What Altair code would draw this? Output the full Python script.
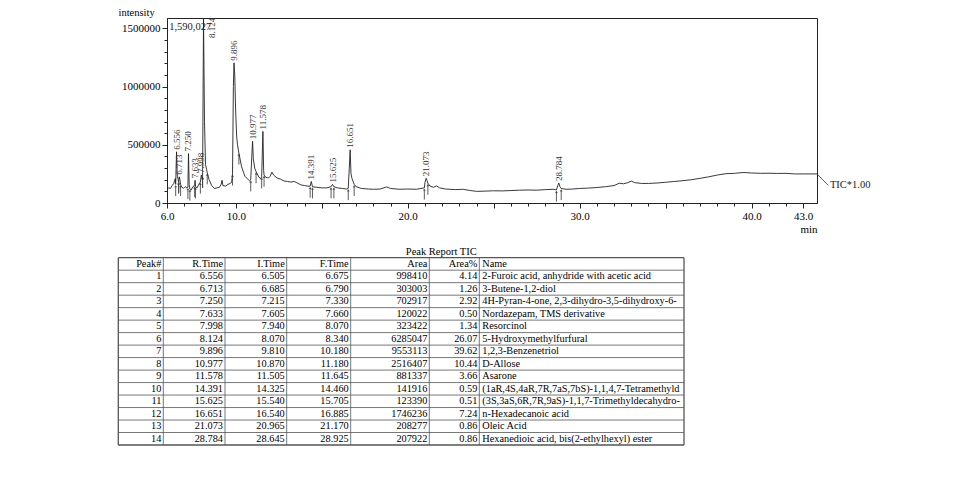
import altair as alt
import pandas as pd
import numpy as np

# ---------------- chromatogram trace (retention time [min], intensity) ----------------
TRACE_T = [6.00, 6.10, 6.20, 6.30, 6.40, 6.48, 6.505, 6.556, 6.60, 6.65, 6.675, 6.685, 6.713, 6.75, 6.79,
           6.85, 6.95, 7.05, 7.15, 7.215, 7.250, 7.29, 7.33, 7.40, 7.50, 7.605, 7.633, 7.66, 7.75, 7.85,
           7.94, 7.998, 8.05, 8.07, 8.124, 8.18, 8.24, 8.30, 8.34, 8.45, 8.60, 8.75, 8.90, 9.05, 9.15,
           9.20, 9.25, 9.40, 9.55, 9.70, 9.76, 9.81, 9.86, 9.896, 9.94, 9.99, 10.05, 10.10, 10.18, 10.34,
           10.53, 10.73, 10.80, 10.87, 10.93, 10.977, 11.02, 11.10, 11.18, 11.25, 11.35, 11.45, 11.505, 11.578, 11.62,
           11.645, 11.75, 11.90, 12.00, 12.10, 12.20, 12.40, 12.60, 12.80, 13.00, 13.20, 13.40, 13.60, 13.80, 14.00,
           14.20, 14.325, 14.391, 14.46, 14.70, 15.00, 15.30, 15.54, 15.625, 15.705, 15.90, 16.20, 16.45, 16.54, 16.60,
           16.651, 16.70, 16.76, 16.885, 17.00, 17.30, 17.70, 18.00, 18.40, 18.77, 19.00, 19.50, 20.00, 20.50, 20.965,
           21.00, 21.073, 21.12, 21.17, 21.30, 21.50, 21.68, 21.85, 22.20, 22.80, 23.20, 23.60, 24.00, 24.50, 25.00,
           25.50, 26.00, 26.50, 27.00, 27.50, 28.00, 28.50, 28.645, 28.75, 28.784, 28.85, 28.925, 29.20, 29.60, 30.00,
           30.50, 31.00, 31.50, 32.00, 32.30, 32.55, 32.80, 33.00, 33.20, 33.60, 34.00, 34.50, 35.00, 35.50, 36.00,
           36.50, 37.00, 37.50, 38.00, 38.50, 39.00, 39.50, 40.00, 40.50, 41.00, 41.50, 42.00, 42.50, 43.00, 43.50,
           43.80]
TRACE_I = [118000, 130000, 125000, 150000, 170000, 210000, 160000, 440000, 230000, 200000, 180000, 190000, 225000, 200000, 160000,
           140000, 125000, 140000, 130000, 135000, 425000, 160000, 120000, 110000, 140000, 150000, 195000, 140000, 130000, 160000,
           180000, 240000, 210000, 230000, 1590027, 700000, 330000, 290000, 260000, 200000, 150000, 125000, 130000, 135000, 160000,
           195000, 150000, 145000, 160000, 170000, 180000, 250000, 1000000, 1205000, 1100000, 800000, 575000, 500000, 430000, 310000,
           230000, 200000, 190000, 200000, 400000, 530000, 380000, 300000, 270000, 250000, 220000, 210000, 225000, 615000, 280000,
           240000, 220000, 215000, 230000, 265000, 240000, 215000, 205000, 190000, 185000, 180000, 185000, 170000, 155000, 150000,
           145000, 145000, 185000, 140000, 135000, 130000, 130000, 140000, 160000, 140000, 130000, 125000, 120000, 125000, 300000,
           457000, 250000, 210000, 160000, 140000, 125000, 120000, 118000, 120000, 138000, 125000, 118000, 120000, 118000, 130000,
           175000, 212000, 195000, 170000, 145000, 135000, 147000, 130000, 120000, 115000, 118000, 108000, 100000, 102000, 105000,
           104000, 107000, 110000, 112000, 110000, 115000, 118000, 112000, 160000, 172000, 140000, 125000, 118000, 120000, 125000,
           128000, 133000, 140000, 150000, 170000, 165000, 175000, 188000, 175000, 168000, 168000, 172000, 178000, 185000, 192000,
           200000, 212000, 225000, 240000, 252000, 255000, 262000, 258000, 255000, 256000, 254000, 255000, 250000, 250000, 250000,
           250000]

MAX_INTENSITY = 1590027

# ---------------- peak report ----------------
PEAK = list(range(1, 15))
R_TIME = [6.556, 6.713, 7.250, 7.633, 7.998, 8.124, 9.896, 10.977, 11.578, 14.391, 15.625, 16.651, 21.073, 28.784]
I_TIME = [6.505, 6.685, 7.215, 7.605, 7.940, 8.070, 9.810, 10.870, 11.505, 14.325, 15.540, 16.540, 20.965, 28.645]
F_TIME = [6.675, 6.790, 7.330, 7.660, 8.070, 8.340, 10.180, 11.180, 11.645, 14.460, 15.705, 16.885, 21.170, 28.925]
AREA = [998410, 303003, 702917, 120022, 323422, 6285047, 9553113, 2516407, 881337, 141916, 123390, 1746236, 208277, 207922]
AREA_PCT = [4.14, 1.26, 2.92, 0.50, 1.34, 26.07, 39.62, 10.44, 3.66, 0.59, 0.51, 7.24, 0.86, 0.86]
NAMES = [
    "2-Furoic acid, anhydride with acetic acid",
    "3-Butene-1,2-diol",
    "4H-Pyran-4-one, 2,3-dihydro-3,5-dihydroxy-6-methyl-",
    "Nordazepam, TMS derivative",
    "Resorcinol",
    "5-Hydroxymethylfurfural",
    "1,2,3-Benzenetriol",
    "D-Allose",
    "Asarone",
    "(1aR,4S,4aR,7R,7aS,7bS)-1,1,4,7-Tetramethyldecahydro-1H-cyclopropa[e]azulen-4-ol",
    "(3S,3aS,6R,7R,9aS)-1,1,7-Trimethyldecahydro-3a,7-methanoazulen-6-ol",
    "n-Hexadecanoic acid",
    "Oleic Acid",
    "Hexanedioic acid, bis(2-ethylhexyl) ester",
]
HEADERS = ["Peak#", "R.Time", "I.Time", "F.Time", "Area", "Area%", "Name"]

X_LABEL_VALUES = [6, 10, 20, 30, 40, 43]
Y_LABEL_VALUES = [0, 500000, 1000000, 1500000]

# ---------------- layout constants ----------------
W, H = 650, 185
PAD_L, PAD_T = 167, 18
COL_W = [45, 61.7, 61.7, 64, 78.6, 50, 204.7]
TBL_X_RANGE = [118.3 - PAD_L, 684 - PAD_L]
TBL_Y_RANGE = [257.7 - PAD_T, 445 - PAD_T]
FONT = "Liberation Serif"

# ---------------- data frames ----------------
trace = pd.DataFrame({"t": TRACE_T, "I": TRACE_I})
lookup = dict(zip(TRACE_T, TRACE_I))

peaks = pd.DataFrame({"rt": R_TIME, "I": [lookup[r] for r in R_TIME],
                      "lab": [f"{r:.3f}" for r in R_TIME]})
peaks_main = peaks[peaks["I"] < MAX_INTENSITY]
peaks_top = peaks[peaks["I"] >= MAX_INTENSITY].assign(I=1418000)

mk_t = I_TIME + F_TIME
mk_y = np.interp(mk_t, TRACE_T, TRACE_I)
markers = pd.DataFrame({"t": mk_t, "y1": mk_y - 15000, "y2": np.maximum(mk_y - 100000, 5000)})

x_scale = alt.Scale(domain=[6, 43.8], nice=False, zero=False)
y_scale = alt.Scale(domain=[0, MAX_INTENSITY], nice=False)

x_lab_list = ",".join(str(v) for v in X_LABEL_VALUES)
y_lab_list = ",".join(str(v) for v in Y_LABEL_VALUES)

x_axis = alt.Axis(
    values=list(range(6, 44)),
    labelExpr=f"indexof([{x_lab_list}], datum.value) >= 0 ? format(datum.value, '.1f') : ''",
    tickSize={"condition": {"test": "datum.value % 5 == 0 || datum.value == 6 || datum.value == 43", "value": 5}, "value": 3},
    labelFont=FONT, labelFontSize=11, labelColor="black", labelPadding=2,
    tickColor="#222", domainColor="#222", grid=False, labelOverlap=False, labelFlush=False,
    title="min", titleFont=FONT, titleFontSize=11, titleFontWeight="normal", titleColor="black",
    titleX=W, titleY=29, titleAlign="right", titleAnchor="end", titleBaseline="alphabetic",
)
y_axis = alt.Axis(
    values=list(range(0, 1500001, 100000)),
    labelExpr=f"indexof([{y_lab_list}], datum.value) >= 0 ? format(datum.value, 'd') : ''",
    tickSize={"condition": {"test": "datum.value % 500000 == 0", "value": 5}, "value": 3},
    labelFont=FONT, labelFontSize=11, labelColor="black", labelPadding=2,
    tickColor="#222", domainColor="#222", grid=False, labelOverlap=False,
    title="intensity", titleFont=FONT, titleFontSize=10.5, titleFontWeight="normal", titleColor="black",
    titleAngle=0, titleX=-49, titleY=-3, titleAlign="left", titleBaseline="alphabetic",
)

line = alt.Chart(trace).mark_line(color="#222", strokeWidth=0.9).encode(
    x=alt.X("t:Q", scale=x_scale, axis=x_axis),
    y=alt.Y("I:Q", scale=y_scale, axis=y_axis),
)

mk_rules = alt.Chart(markers).mark_rule(color="#333", strokeWidth=0.8).encode(
    x=alt.X("t:Q", axis=x_axis), y=alt.Y("y1:Q", axis=y_axis), y2="y2:Q")
mk_heads = alt.Chart(markers).mark_point(shape="triangle-up", size=8, filled=True, color="#333").encode(
    x=alt.X("t:Q", axis=x_axis), y=alt.Y("y1:Q", axis=y_axis))

peak_labels = alt.Chart(peaks_main).mark_text(
    angle=270, align="left", baseline="middle", dx=2, font=FONT, fontSize=9, color="#333"
).encode(x=alt.X("rt:Q", axis=x_axis), y=alt.Y("I:Q", axis=y_axis), text="lab:N")
peak_top_label = alt.Chart(peaks_top).mark_text(
    angle=270, align="left", baseline="middle", dy=8, font=FONT, fontSize=9, color="#333"
).encode(x=alt.X("rt:Q", axis=x_axis), y=alt.Y("I:Q", axis=y_axis), text="lab:N")

max_label = alt.Chart(pd.DataFrame({"t": [6.13], "I": [MAX_INTENSITY], "s": ["1,590,027"]})).mark_text(
    align="left", baseline="top", dy=4, font=FONT, fontSize=10.5, color="#222"
).encode(x=alt.X("t:Q", axis=x_axis), y=alt.Y("I:Q", axis=y_axis), text="s:N")

tic_line = alt.Chart(pd.DataFrame({"t": [43.8, 44.45], "I": [250000, 152000]})).mark_line(
    color="#333", strokeWidth=0.8).encode(x=alt.X("t:Q", axis=x_axis), y=alt.Y("I:Q", axis=y_axis))
tic_text = alt.Chart(pd.DataFrame({"t": [44.55], "I": [152000], "s": ["TIC*1.00"]})).mark_text(
    align="left", baseline="middle", font=FONT, fontSize=10.5, color="#222"
).encode(x=alt.X("t:Q", axis=x_axis), y=alt.Y("I:Q", axis=y_axis), text="s:N")

chrom = alt.layer(line, mk_rules, mk_heads, peak_labels, peak_top_label, max_label, tic_line, tic_text)

# ---------------- table ----------------
edges = np.concatenate([[0], np.cumsum(COL_W)])
tx = alt.Scale(domain=[0, float(edges[-1])], range=TBL_X_RANGE, nice=False, zero=False)
ty = alt.Scale(domain=[0, 15], range=TBL_Y_RANGE, nice=False, zero=False)

rows = []
for r in range(15):
    if r == 0:
        vals = HEADERS[:6]
        name = HEADERS[6]
    else:
        i = r - 1
        vals = [str(PEAK[i]), f"{R_TIME[i]:.3f}", f"{I_TIME[i]:.3f}", f"{F_TIME[i]:.3f}",
                str(AREA[i]), f"{AREA_PCT[i]:.2f}"]
        name = NAMES[i]
    for c, v in enumerate(vals):
        rows.append({"x": float(edges[c + 1]) - 2, "y": r + 0.5, "s": v, "al": "r"})
    rows.append({"x": float(edges[6]) + 3, "y": r + 0.5, "s": name, "al": "l"})
cells = pd.DataFrame(rows)

hl = pd.DataFrame({"y": list(range(16)), "x": 0.0, "x2": float(edges[-1]),
                   "w": [1.3 if k in (0, 15) else 0.8 for k in range(16)]})
vl = pd.DataFrame({"x": [float(e) for e in edges], "y": 0, "y2": 15,
                   "w": [1.3 if k in (0, len(edges) - 1) else 0.8 for k in range(len(edges))]})

h_rules = alt.Chart(hl).mark_rule(color="#555").encode(
    x=alt.X("x:Q", scale=tx, axis=None), x2="x2:Q",
    y=alt.Y("y:Q", scale=ty, axis=None), strokeWidth=alt.StrokeWidth("w:Q", scale=None))
v_rules = alt.Chart(vl).mark_rule(color="#555").encode(
    x=alt.X("x:Q", scale=tx, axis=None),
    y=alt.Y("y:Q", scale=ty, axis=None), y2="y2:Q", strokeWidth=alt.StrokeWidth("w:Q", scale=None))
txt_r = alt.Chart(cells[cells["al"] == "r"]).mark_text(
    align="right", baseline="middle", font=FONT, fontSize=10.3, color="black"
).encode(x=alt.X("x:Q", scale=tx, axis=None), y=alt.Y("y:Q", scale=ty, axis=None), text="s:N")
txt_l = alt.Chart(cells[cells["al"] == "l"]).mark_text(
    align="left", baseline="middle", font=FONT, fontSize=10.3, color="black", limit=201, ellipsis="\u200b"
).encode(x=alt.X("x:Q", scale=tx, axis=None), y=alt.Y("y:Q", scale=ty, axis=None), text="s:N")
caption = alt.Chart(pd.DataFrame({"x": [float(edges[5]) + 12], "y": [-0.45], "s": ["Peak Report TIC"]})).mark_text(
    align="center", baseline="middle", font=FONT, fontSize=10.5, color="black"
).encode(x=alt.X("x:Q", scale=tx, axis=None), y=alt.Y("y:Q", scale=ty, axis=None), text="s:N")

table = alt.layer(h_rules, v_rules, txt_r, txt_l, caption)

chart = alt.layer(chrom, table).resolve_scale(x="independent", y="independent").properties(
    width=W, height=H,
    title=alt.TitleParams("Top Position", font=FONT, fontSize=11, fontWeight="normal", color="black",
                          anchor="middle", offset=15, baseline="alphabetic"),
    autosize=alt.AutoSizeParams(type="none"),
    padding={"left": PAD_L, "top": PAD_T, "right": 975 - PAD_L - W, "bottom": 485 - PAD_T - H},
    background="white",
).configure_view(stroke="#222", strokeWidth=1).configure_axis(labelOverlap=False)

chart.save("out.html", embed_options={"renderer": "svg", "actions": False})
